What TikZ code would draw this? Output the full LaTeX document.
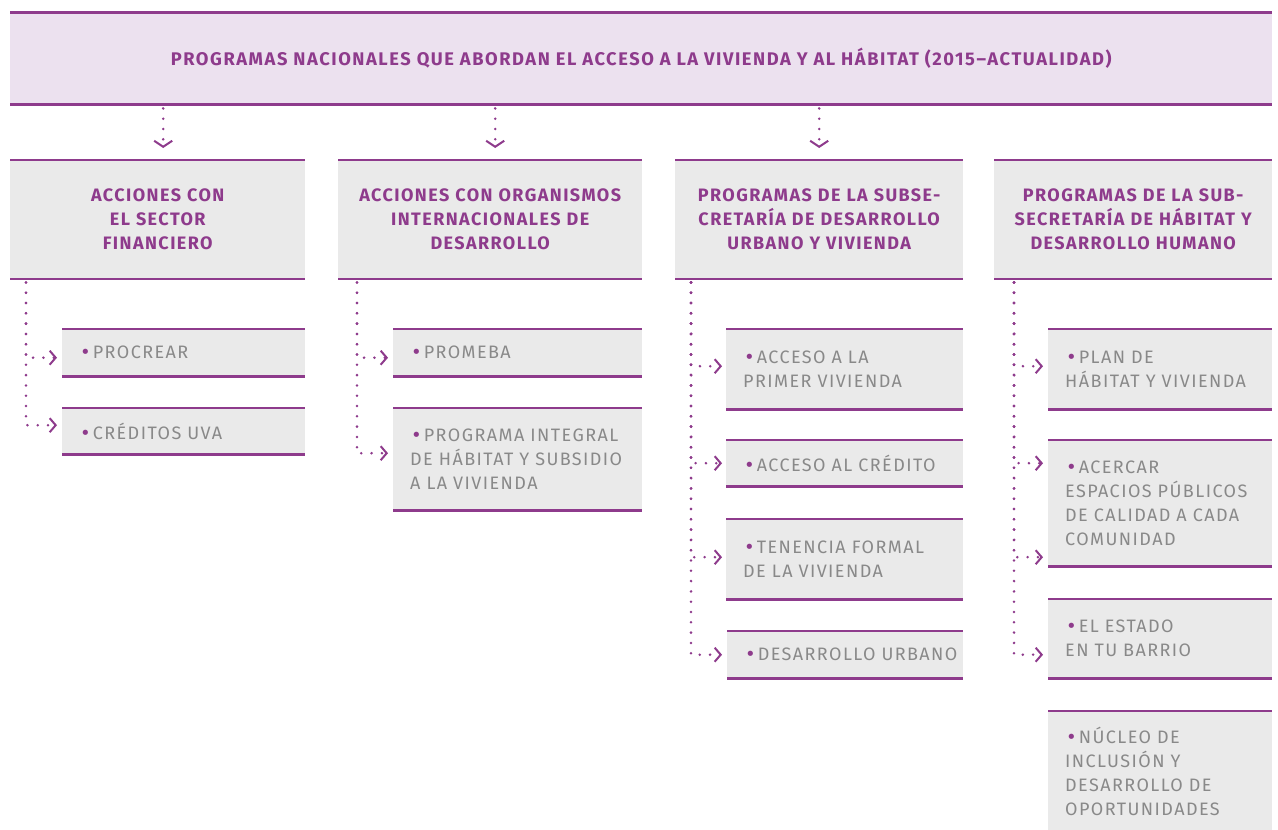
\documentclass[tikz,border=0pt]{standalone}
\usepackage{fontspec}
\setmainfont{Fira Sans}
\IfFontExistsTF{FiraSans-Book.otf}
  {\newfontfamily\itemfont[LetterSpace=8]{FiraSans-Book.otf}}
  {\newfontfamily\itemfont[LetterSpace=8]{Fira Sans}}
\newfontfamily\headfont[LetterSpace=8]{Fira Sans}
\newfontfamily\titlefont[LetterSpace=8.5]{Fira Sans}
\newfontfamily\bulfont{DejaVu Sans}
\usetikzlibrary{arrows.meta,calc}
\definecolor{pur}{HTML}{8E3B8C}
\definecolor{lav}{HTML}{ECE1EF}
\definecolor{gfill}{HTML}{EAEAEA}
\definecolor{gtext}{HTML}{898989}
\begin{document}
\begin{tikzpicture}[x=1pt,y=-1pt,
  hdrbox/.style={fill=lav, minimum width=1262pt, minimum height=92pt, anchor=north west, inner sep=0pt,
    font=\titlefont\bfseries\fontsize{18.3}{24}\selectfont, text=pur},
  colbox/.style={fill=gfill, anchor=north west, inner xsep=6pt, inner ysep=0pt, align=center,
    font=\headfont\bfseries\fontsize{18}{24}\selectfont, text=pur},
  itembox/.style={fill=gfill, anchor=north west, inner xsep=17pt, inner ysep=0pt, align=left,
    font=\itemfont\fontsize{18}{24}\selectfont, text=gtext},
  rule/.style={draw=pur, line width=2.5pt},
  conn/.style={draw=pur, line width=2.8pt, line cap=round, dash pattern=on 0pt off 10.3pt,
    -{Straight Barb[length=6pt,width=14pt,line width=2pt]}},
  dconn/.style={conn, -{Straight Barb[length=6pt,width=18pt,line width=2pt]}},
]
\useasboundingbox (0,0) rectangle (1278,830);
\newcommand\bul{\hspace*{1pt}{\bulfont\color{pur}•}\hspace{2pt}}

% header
\node[hdrbox] (hdr) at (10,12) {PROGRAMAS NACIONALES QUE ABORDAN EL ACCESO A LA VIVIENDA Y AL HÁBITAT (2015–ACTUALIDAD)};
\draw[rule, line width=3pt] (hdr.north west) -- (hdr.north east);
\draw[rule, line width=3pt] (hdr.south west) -- (hdr.south east);

% column headers
\node[colbox, text width=283pt, minimum height=119pt] (c1) at (10,160) {ACCIONES CON\\EL SECTOR\\FINANCIERO};
\node[colbox, text width=292pt, minimum height=119pt] (c2) at (338,160) {ACCIONES CON ORGANISMOS\\INTERNACIONALES DE\\DESARROLLO};
\node[colbox, text width=276pt, minimum height=119pt] (c3) at (675,160) {PROGRAMAS DE LA SUBSE-\\CRETARÍA DE DESARROLLO\\URBANO Y VIVIENDA};
\node[colbox, text width=266pt, minimum height=119pt] (c4) at (994,160) {PROGRAMAS DE LA SUB-\\SECRETARÍA DE HÁBITAT Y\\DESARROLLO HUMANO};
\foreach \n in {c1,c2,c3,c4}{
  \draw[rule, line width=2pt] (\n.north west) -- (\n.north east);
  \draw[rule, line width=2pt] (\n.south west) -- (\n.south east);
}

% items
\node[itembox, text width=209pt, minimum height=47pt] (p1) at (62,329) {\bul PROCREAR};
\node[itembox, text width=209pt, minimum height=46pt] (p2) at (62,408) {\bul CRÉDITOS UVA};
\node[itembox, text width=215pt, minimum height=47pt] (q1) at (393,329) {\bul PROMEBA};
\node[itembox, text width=215pt, minimum height=102pt] (q2) at (393,408) {\bul PROGRAMA INTEGRAL\\DE HÁBITAT Y SUBSIDIO\\A LA VIVIENDA};
\node[itembox, text width=203pt, minimum height=80pt] (r1) at (726,329) {\bul ACCESO A LA\\PRIMER VIVIENDA};
\node[itembox, text width=203pt, minimum height=46pt] (r2) at (726,440) {\bul ACCESO AL CRÉDITO};
\node[itembox, text width=203pt, minimum height=80pt] (r3) at (726,519) {\bul TENENCIA FORMAL\\DE LA VIVIENDA};
\node[itembox, inner xsep=6pt, text width=224pt, minimum height=47pt] (r4) at (727,631) {\hspace*{11pt}\bul DESARROLLO URBANO};
\node[itembox, text width=190pt, minimum height=80pt] (s1) at (1048,329) {\bul PLAN DE\\HÁBITAT Y VIVIENDA};
\node[itembox, text width=190pt, minimum height=126pt] (s2) at (1048,440) {\bul ACERCAR\\ESPACIOS PÚBLICOS\\DE CALIDAD A CADA\\COMUNIDAD};
\node[itembox, text width=190pt, minimum height=79pt] (s3) at (1048,599) {\bul EL ESTADO\\EN TU BARRIO};
\node[itembox, text width=190pt, minimum height=120pt] (s4) at (1048,711) {\bul NÚCLEO DE\\INCLUSIÓN Y\\DESARROLLO DE\\OPORTUNIDADES};
\foreach \n in {p1,p2,q1,q2,r1,r2,r3,r4,s1,s2,s3}{
  \draw[rule, line width=2.2pt] (\n.north west) -- (\n.north east);
  \draw[rule, line width=2.2pt] (\n.south west) -- (\n.south east);
}
\draw[rule, line width=2.2pt] (s4.north west) -- (s4.north east);

% arrows from header
\draw[dconn] ($(c1.north |- hdr.south)+(5.5,4)$) -- ($(c1.north)+(5.5,-12)$);
\draw[dconn] ($(c2.north |- hdr.south)+(5,4)$) -- ($(c2.north)+(5,-12)$);
\draw[dconn] ($(c3.north |- hdr.south)+(0,4)$) -- ($(c3.north)+(0,-12)$);

% trunks
\coordinate (t1) at ($(c1.south west)+(16,3)$);
\coordinate (t2) at ($(c2.south west)+(19,3)$);
\coordinate (t3) at ($(c3.south west)+(16,3)$);
\coordinate (t4) at ($(c4.south west)+(20,3)$);

\draw[conn] (t1) |- ($(p1.west)+(-5,5)$);
\draw[conn] (t1) |- ($(p2.west)+(-5,-6)$);
\draw[conn] (t2) |- ($(q1.west)+(-5,5)$);
\draw[conn] (t2) |- ($(q2.west)+(-5,-6)$);
\draw[conn] (t3) |- ($(r1.west)+(-4,-3)$);
\draw[conn] (t3) |- ($(r2.west)+(-4,0)$);
\draw[conn] (t3) |- ($(r3.west)+(-4,-2)$);
\draw[conn] (t3) |- ($(r4.west)+(-5,0)$);
\draw[conn] (t4) |- ($(s1.west)+(-5,-3)$);
\draw[conn] (t4) |- ($(s2.west)+(-5,-40)$);
\draw[conn] (t4) |- ($(s2.west)+(-5,54)$);
\draw[conn] (t4) |- ($(s3.west)+(-5,16)$);
\end{tikzpicture}
\end{document}
